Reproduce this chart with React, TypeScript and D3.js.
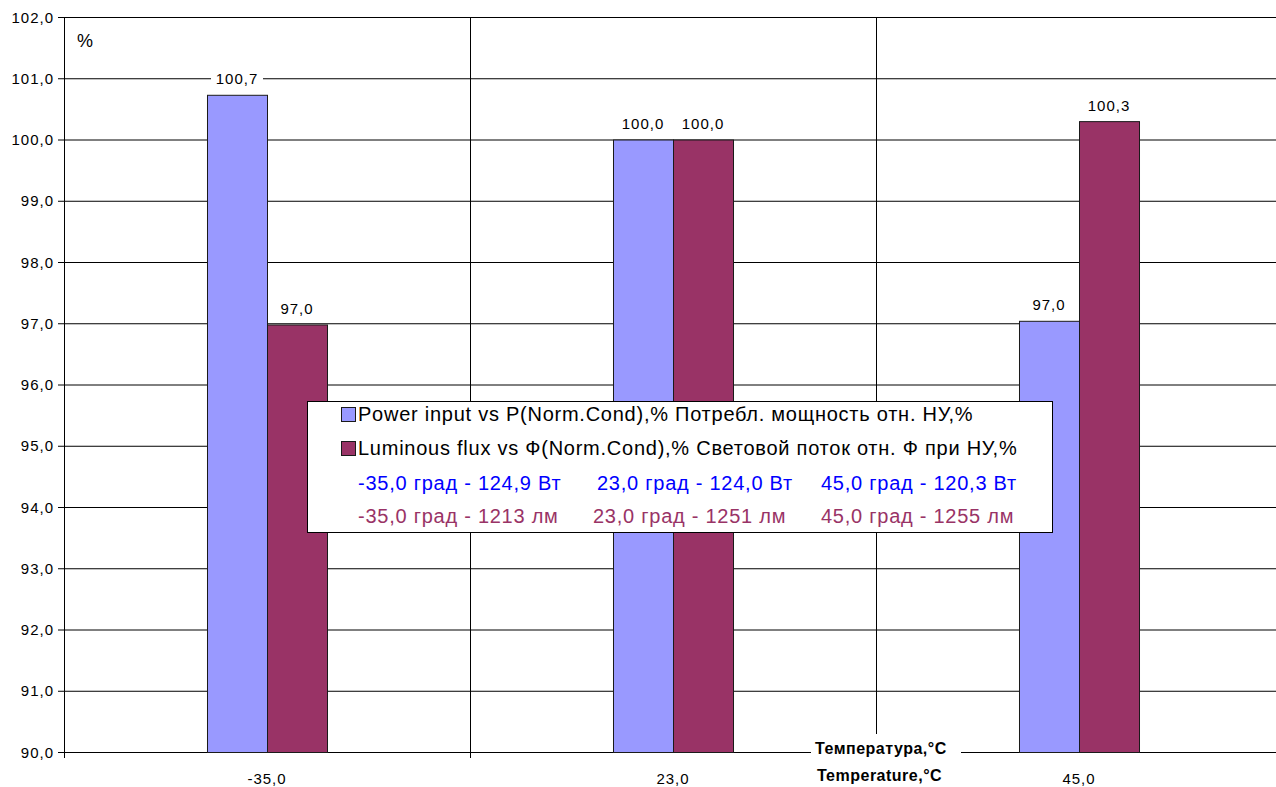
import * as d3 from 'd3'
import type { ReactElement } from 'react'

const categories = ['-35,0', '23,0', '45,0']
const seriesNames = ['power', 'flux']
const powerValues = [100.73, 100.0, 97.04]
const fluxValues = [96.98, 100.0, 100.3]
const yTicks = [90, 91, 92, 93, 94, 95, 96, 97, 98, 99, 100, 101, 102]
const legendTitles = [
  'Power input vs P(Norm.Cond),% Потребл. мощность отн. НУ,%',
  'Luminous flux vs Ф(Norm.Cond),% Световой поток отн. Ф при НУ,%',
]
const powerNotes = ['-35,0 град - 124,9 Вт', '23,0 град - 124,0 Вт', '45,0 град - 120,3 Вт']
const fluxNotes = ['-35,0 град - 1213 лм', '23,0 град - 1251 лм', '45,0 град - 1255 лм']

const width = 1276
const height = 787
const font = 'Arial, "Liberation Sans", sans-serif'
const colors = { power: '#9999FF', flux: '#993366' }
const noteColors = ['#0000FF', '#993366']

export default function App(): ReactElement {
  const plot = { left: 64, right: 1282, top: 17, bottom: 752 }
  const x0 = d3.scaleBand<string>().domain(categories).range([plot.left, plot.right])
  const x1 = d3
    .scaleBand<string>()
    .domain(seriesNames)
    .range([0, x0.bandwidth()])
    .paddingInner(0)
    .paddingOuter(2.383)
  const y = d3.scaleLinear().domain([90, 102]).range([plot.bottom, plot.top])
  const fmt = (v: number) => v.toFixed(1).replace('.', ',')

  const bars = categories.flatMap((c, i) => [
    { c, key: 'power', v: powerValues[i] },
    { c, key: 'flux', v: fluxValues[i] },
  ])

  const legend = { x: 307, y: 401, w: 745, h: 131 }
  const noteX = [358, 597, 821]
  const small = { fontSize: 15, letterSpacing: 1 }
  const big = { fontSize: 20, letterSpacing: 0.75 }

  return (
    <svg
      width={width}
      height={height}
      style={{ position: 'absolute', left: 0, top: 0, background: '#fff' }}
      fontFamily={font}
    >
      {/* horizontal gridlines */}
      {yTicks.map((t) => (
        <line key={t} x1={plot.left} x2={plot.right} y1={y(t) + 0.5} y2={y(t) + 0.5} stroke="#000" strokeWidth={1} />
      ))}
      {/* vertical gridlines at category boundaries */}
      {categories.slice(1).map((c) => (
        <line
          key={c}
          x1={x0(c)! + 0.5}
          x2={x0(c)! + 0.5}
          y1={plot.top}
          y2={plot.bottom}
          stroke="#000"
          strokeWidth={1}
        />
      ))}
      {/* y axis */}
      <line x1={plot.left + 0.5} x2={plot.left + 0.5} y1={plot.top} y2={plot.bottom + 6} stroke="#000" />
      {yTicks.map((t) => (
        <g key={t}>
          <line x1={plot.left - 6} x2={plot.left} y1={y(t) + 0.5} y2={y(t) + 0.5} stroke="#000" />
          <text x={plot.left - 10} y={y(t) + 5.5} textAnchor="end" {...small} fill="#000">
            {fmt(t)}
          </text>
        </g>
      ))}
      {/* x axis ticks */}
      {categories.slice(1).map((c) => (
        <line key={c} x1={x0(c)! + 0.5} x2={x0(c)! + 0.5} y1={plot.bottom} y2={plot.bottom + 6} stroke="#000" />
      ))}
      {categories.map((c) => (
        <text key={c} x={x0(c)! + x0.bandwidth() / 2} y={784} textAnchor="middle" {...small} fill="#000">
          {c}
        </text>
      ))}
      <text x={77} y={47} fontSize={18} fill="#000">
        %
      </text>
      {/* bars */}
      {bars.map((b) => (
        <rect
          key={b.c + b.key}
          x={x0(b.c)! + x1(b.key)! + 0.5}
          y={y(b.v) + 0.5}
          width={x1.bandwidth()}
          height={y(90) - y(b.v)}
          fill={colors[b.key as 'power' | 'flux']}
          stroke="#1a1a1a"
          strokeWidth={1}
        />
      ))}
      {/* data labels */}
      {bars.map((b) => {
        const cx = x0(b.c)! + x1(b.key)! + x1.bandwidth() / 2
        const cy = y(b.v) - 16
        return (
          <g key={'l' + b.c + b.key}>
            <rect x={cx - 26} y={cy - 10} width={52} height={20} fill="#fff" />
            <text x={cx} y={cy + 5.5} textAnchor="middle" {...small} fill="#000">
              {fmt(b.v)}
            </text>
          </g>
        )
      })}
      {/* axis title */}
      <rect x={811} y={734} width={150} height={53} fill="#fff" />
      <text x={815} y={754} fontSize={16} letterSpacing={0.5} fontWeight="bold" fill="#000">
        Температура,°C
      </text>
      <text x={817} y={781} fontSize={16} letterSpacing={0.5} fontWeight="bold" fill="#000">
        Temperature,°C
      </text>
      {/* legend */}
      <rect x={legend.x + 0.5} y={legend.y + 0.5} width={legend.w} height={legend.h} fill="#fff" stroke="#000" />
      {legendTitles.map((t, i) => (
        <g key={t}>
          <rect
            x={341.5}
            y={407.5 + i * 34}
            width={14}
            height={14}
            fill={colors[seriesNames[i] as 'power' | 'flux']}
            stroke="#1a1a1a"
          />
          <text x={358} y={421 + i * 34} {...big} fill="#000">
            {t}
          </text>
        </g>
      ))}
      {[powerNotes, fluxNotes].map((row, r) =>
        row.map((n, i) => (
          <text key={n} x={noteX[i] - (r === 1 && i === 1 ? 4 : 0)} y={490 + r * 33} {...big} fill={noteColors[r]}>
            {n}
          </text>
        )),
      )}
    </svg>
  )
}
